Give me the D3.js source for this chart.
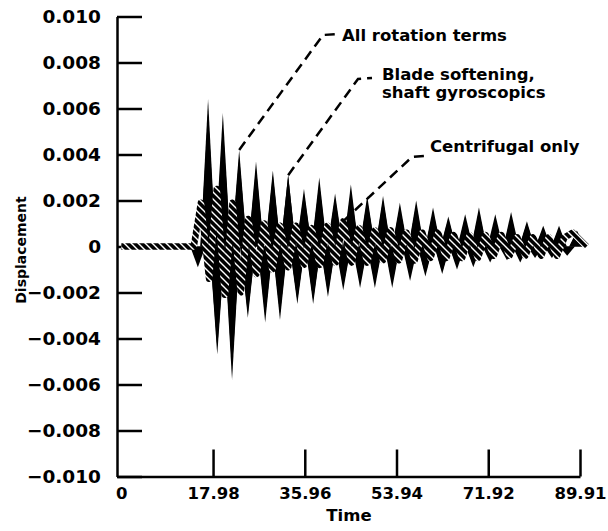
<!DOCTYPE html>
<html>
<head>
<meta charset="utf-8">
<script src="https://cdn.jsdelivr.net/npm/d3@7"></script>
<style>
body { margin: 0; background: #fff; }
text { font-family: "DejaVu Sans", sans-serif; font-weight: bold; fill: #000; }
</style>
</head>
<body>
<div id="chart"></div>
<script>
// ticks
var xTicks = [0, 17.98, 35.96, 53.94, 71.92, 89.91];
var xTickLabels = ["0", "17.98", "35.96", "53.94", "71.92", "89.91"];
var yTicks = [-0.010, -0.008, -0.006, -0.004, -0.002, 0, 0.002, 0.004, 0.006, 0.008, 0.010];
var yTickLabels = ["\u22120.010", "\u22120.008", "\u22120.006", "\u22120.004", "\u22120.002", "0",
                   "0.002", "0.004", "0.006", "0.008", "0.010"];

// peaks of the two solid curves
var peakTime = [15.0, 17.0, 18.8, 19.9, 21.7, 23.1, 24.8, 26.4, 28.2, 29.7,
                31.1, 32.7, 34.5, 35.8, 37.6, 38.8, 40.5, 41.9, 43.5, 45.0,
                46.8, 48.2, 49.7, 51.3, 53.1, 54.6, 56.6, 57.8, 59.6, 61.1,
                62.9, 64.1, 65.8, 67.4, 69.0, 70.1, 72.3, 73.3, 75.6, 76.4,
                78.2, 79.5, 81.1, 82.7, 84.4, 85.8, 87.4, 89.3];
var allRotationValue = [-0.0009, 0.0064, -0.0047, 0.0058, -0.0058, 0.0042, -0.0031, 0.0037, -0.0033, 0.0033,
                        -0.0032, 0.0031, -0.0025, 0.0025, -0.0025, 0.0030, -0.0022, 0.0023, -0.0019, 0.0027,
                        -0.0018, 0.0022, -0.0018, 0.0022, -0.0018, 0.0019, -0.0015, 0.0020, -0.0013, 0.0017,
                        -0.0012, 0.0013, -0.0010, 0.0014, -0.0009, 0.0017, -0.0007, 0.0014, -0.0006, 0.0015,
                        -0.0007, 0.0011, -0.0005, 0.0009, -0.0005, 0.0009, -0.0004, 0.0007];
var bladeSofteningValue = [-0.0007, 0.0058, -0.0044, 0.0052, -0.0053, 0.0039, -0.0029, 0.0034, -0.0030, 0.0031,
                           -0.0029, 0.0031, -0.0023, 0.0023, -0.0023, 0.0027, -0.0020, 0.0021, -0.0017, 0.0024,
                           -0.0016, 0.0020, -0.0016, 0.0020, -0.0016, 0.0017, -0.0013, 0.0018, -0.0012, 0.0015,
                           -0.0011, 0.0012, -0.0009, 0.0012, -0.0008, 0.0015, -0.0006, 0.0012, -0.0005, 0.0013,
                           -0.0006, 0.0010, -0.0004, 0.0008, -0.0004, 0.0008, -0.0003, 0.0006];

// hatched curve
var centrifugalTime = [0, 14.2, 15.6, 17.2, 18.7, 20.3, 21.8, 23.4, 24.9, 26.5,
                       28.0, 29.6, 31.1, 32.7, 34.2, 35.8, 37.3, 38.9, 40.4, 42.0,
                       43.5, 45.1, 46.6, 48.2, 49.7, 51.3, 52.8, 54.4, 55.9, 57.5,
                       59.0, 60.6, 62.1, 63.7, 65.2, 66.8, 68.3, 69.9, 71.4, 73.0,
                       74.5, 76.1, 77.6, 79.2, 80.7, 82.3, 83.8, 85.4, 86.9, 88.5, 91.2];
var centrifugalValue = [0, 0, 0.0019, -0.0014, 0.0025, -0.0021, 0.0019, -0.0020, 0.0012, -0.0012,
                        0.0010, -0.0010, 0.0009, -0.0009, 0.0009, -0.0008, 0.0008, -0.0008, 0.0009, -0.0007,
                        0.0011, -0.0007, 0.0008, -0.0007, 0.0007, -0.0006, 0.0007, -0.0006, 0.0006, -0.0006,
                        0.0006, -0.0005, 0.0006, -0.0005, 0.0005, -0.0005, 0.0005, -0.0005, 0.0005, -0.0004,
                        0.0005, -0.0004, 0.0004, -0.0004, 0.0004, -0.0004, 0.0004, -0.0004, 0.0004, 0.0006, 0.0000];

var frameWidth = 608;
var frameHeight = 531;

var x = d3.scaleLinear().domain([-0.85, 89.91]).range([117, 580]);
var y = d3.scaleLinear().domain([-0.010, 0.010]).range([476.5, 16.5]);

var svg = d3.select("#chart").append("svg")
            .attr("width", frameWidth)
            .attr("height", frameHeight);

// hatch: black with white "\" slashes
var pattern = svg.append("defs").append("pattern")
                 .attr("id", "hatch")
                 .attr("patternUnits", "userSpaceOnUse")
                 .attr("width", 7)
                 .attr("height", 7);
pattern.append("rect").attr("width", 7).attr("height", 7).attr("fill", "#000");
pattern.append("path")
       .attr("d", "M-1,-1L8,8M-1,6L1,8M6,-1L8,1")
       .attr("stroke", "#fff")
       .attr("stroke-width", 1.4);

// axes
var yAxis = svg.append("g")
               .attr("transform", "translate(117,0)")
               .call(d3.axisLeft(y).tickValues(yTicks).tickSize(-25).tickSizeOuter(0).tickPadding(16)
                       .tickFormat(function(d, i) { return yTickLabels[i]; }));
var xAxis = svg.append("g")
               .attr("transform", "translate(0,476.5)")
               .call(d3.axisBottom(x).tickValues(xTicks).tickSize(-27).tickSizeOuter(0).tickPadding(11)
                       .tickFormat(function(d, i) { return xTickLabels[i]; }));
xAxis.selectAll(".tick").filter(function(d) { return d === 0; }).select("line").remove();

[xAxis, yAxis].forEach(function(ax) {
  ax.selectAll("path, line").attr("stroke", "#000").attr("stroke-width", 2.5);
  ax.selectAll("text")
    .attr("fill", "#000")
    .style("font-family", "'DejaVu Sans', sans-serif")
    .style("font-weight", "bold");
});
yAxis.selectAll("text").style("font-size", "18.5px");
xAxis.selectAll("text").style("font-size", "16.5px");

svg.append("text")
   .attr("x", 349).attr("y", 521)
   .attr("text-anchor", "middle")
   .style("font-size", "16.5px")
   .text("Time");
svg.append("text")
   .attr("transform", "translate(26,250) rotate(-90)")
   .attr("text-anchor", "middle")
   .style("font-size", "14px")
   .text("Displacement");

// curves
var halfWidth = 1.5;
function wedge(d) {
  return d3.line()([[x(d[0] - halfWidth), y(0)], [x(d[0]), y(d[1])], [x(d[0] + halfWidth), y(0)]]) + "Z";
}
var plot = svg.append("g");
plot.selectAll("path.blade")
    .data(d3.zip(peakTime, bladeSofteningValue))
    .enter().append("path")
    .attr("class", "blade")
    .attr("d", wedge)
    .attr("fill", "#000");
plot.selectAll("path.allrot")
    .data(d3.zip(peakTime, allRotationValue))
    .enter().append("path")
    .attr("class", "allrot")
    .attr("d", wedge)
    .attr("fill", "#000");
plot.append("path")
    .datum(d3.zip(centrifugalTime, centrifugalValue))
    .attr("d", d3.line().x(function(d) { return x(d[0]); }).y(function(d) { return y(d[1]); }))
    .attr("fill", "none")
    .attr("stroke", "url(#hatch)")
    .attr("stroke-width", 6.5)
    .attr("stroke-linejoin", "round");

// labels with dashed leaders
var notes = [
  { lines: ["All rotation terms"], tx: 342, ty: 41, tipT: 23.1, tipV: 0.0042, elbow: [323, 35], end: [337, 34] },
  { lines: ["Blade softening,", "shaft gyroscopics"], tx: 382, ty: 80, tipT: 32.7, tipV: 0.0031, elbow: [358, 79], end: [372, 78] },
  { lines: ["Centrifugal only"], tx: 430, ty: 152, tipT: 43.5, tipV: 0.0011, elbow: [412, 157], end: [425, 156] }
];
notes.forEach(function(n) {
  svg.append("path")
     .attr("d", d3.line()([[x(n.tipT), y(n.tipV)], n.elbow, n.end]))
     .attr("fill", "none")
     .attr("stroke", "#000")
     .attr("stroke-width", 2.5)
     .attr("stroke-dasharray", "10,6");
  n.lines.forEach(function(s, i) {
    svg.append("text")
       .attr("x", n.tx).attr("y", n.ty + i * 18)
       .style("font-size", "16.5px")
       .text(s);
  });
});
</script>
</body>
</html>
